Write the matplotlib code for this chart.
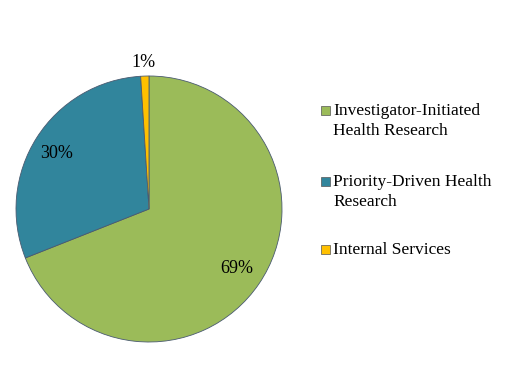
import matplotlib
matplotlib.use("Agg")
import matplotlib.pyplot as plt
from matplotlib.patches import Rectangle

plt.rcParams['font.family'] = ['Liberation Serif', 'DejaVu Serif']

# data
categories = ["Investigator-Initiated\nHealth Research",
              "Priority-Driven Health\nResearch",
              "Internal Services"]
shares = [69, 30, 1]
pct_labels = ["69%", "30%", "1%"]
colors = ["#9BBB59", "#31859C", "#FFC000"]

W, H = 520, 385
fig = plt.figure(figsize=(W / 100, H / 100), dpi=100)

# pie axes: centre (149, 209) px, radius 133 px
cx, cy, r = 149, 209, 133
ax = fig.add_axes([(cx - r) / W, (H - cy - r) / H, 2 * r / W, 2 * r / H])

wedges, texts = ax.pie(shares, colors=colors, startangle=90, counterclock=False,
                       labels=pct_labels, labeldistance=0.8,
                       wedgeprops=dict(edgecolor="#4A5A70", linewidth=0.6),
                       textprops=dict(fontsize=13, color="black"))
for t in texts:
    t.set_ha("center")
    t.set_va("center")
# nudge labels to where the original puts them
texts[1].set_position((-0.695, 0.414))
texts[2].set_position((-0.04, 1.10))
ax.set_xlim(-1, 1)
ax.set_ylim(-1, 1)
ax.set_aspect("auto")
ax.axis("off")

# legend drawn by hand so the key sits on the first text line
baselines = [115, 186, 254]
line_px = 20
for lab, col, yb in zip(categories, colors, baselines):
    fig.add_artist(Rectangle((320.5 / W, (H - yb) / H), 9 / W, 9 / H,
                             transform=fig.transFigure, facecolor=col,
                             edgecolor="#555555", linewidth=0.5))
    last = yb + line_px * lab.count("\n")
    fig.text(333 / W, (H - last) / H, lab, fontsize=12.5, ha="left",
             va="baseline", linespacing=1.3)

fig.savefig("out.png", dpi=100)
